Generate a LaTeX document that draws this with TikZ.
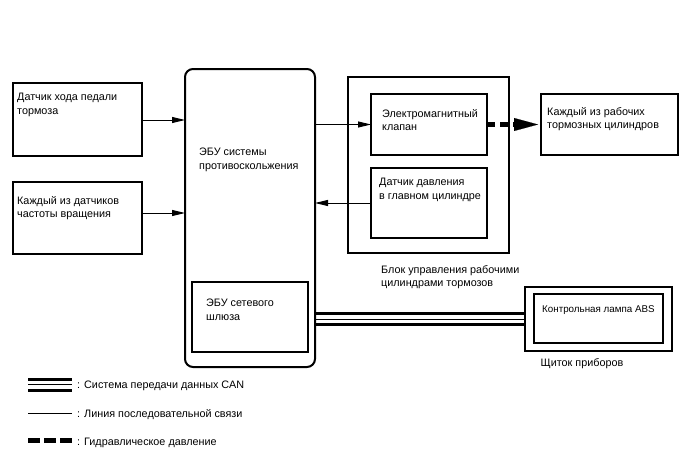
\documentclass[tikz,border=0pt]{standalone}
\usepackage{fontspec}
\setmainfont{Liberation Sans}
\usetikzlibrary{arrows.meta}
\begin{document}
\begin{tikzpicture}[x=1pt,y=-1pt,
  box/.style={draw, line width=1.5pt, outer sep=0pt, inner sep=0pt},
  txt/.style={anchor=north west, inner sep=0pt, align=left, font=\fontsize{10.8}{13.5}\selectfont},
  smalltxt/.style={txt, font=\fontsize{9.8}{12}\selectfont},
  sig/.style={line width=1pt, -{Triangle[length=13pt,width=6pt]}},
  hyd/.style={line width=5pt, dash pattern=on 8pt off 5pt, -{Triangle[length=24pt,width=13pt,line width=0.1pt]}, shorten >=3pt},
  thickcan/.style={line width=3pt},
  thincan/.style={line width=1.4pt}]
\useasboundingbox (0,0) rectangle (688,463);
% boxes
\node[box, minimum width=129pt, minimum height=73pt] (pedal) at (77.5,119.5) {};
\node[box, minimum width=129pt, minimum height=72pt] (speed) at (77.5,218) {};
\node[box, line width=2pt, rounded corners=8pt, minimum width=130pt, minimum height=298pt] (ecu) at (250,218) {};
\node[box, minimum width=116pt, minimum height=70pt] (gw) at (250,317) {};
\node[box, minimum width=161pt, minimum height=176pt] (block) at (428.5,165) {};
\node[box, minimum width=116pt, minimum height=61pt] (valve) at (429,124.5) {};
\node[box, minimum width=116pt, minimum height=70pt] (press) at (429,203) {};
\node[box, minimum width=137pt, minimum height=61pt] (wheel) at (609.5,124.5) {};
\node[box, minimum width=147pt, minimum height=64pt] (dout) at (598.5,319) {};
\node[box, minimum width=129pt, minimum height=49pt] (lamp) at (598.5,318.5) {};
% texts
\node[txt] (tpedal) at (17,93) {Датчик хода педали\\тормоза};
\node[txt] (tspeed) at (17,196) {Каждый из датчиков\\частоты вращения};
\node[txt] (tecu) at (199,148) {ЭБУ системы\\противоскольжения};
\node[txt] (tgw) at (206,299) {ЭБУ сетевого\\шлюза};
\node[txt] (tvalve) at (382,109) {Электромагнитный\\клапан};
\node[txt] (tpress) at (379,178) {Датчик давления\\в главном цилиндре};
\node[txt] (twheel) at (547,107) {Каждый из рабочих\\тормозных цилиндров};
\node[smalltxt] (tlamp) at (542,305) {Контрольная лампа ABS};
\node[txt] (tblock) at (381,265) {Блок управления рабочими\\цилиндрами тормозов};
\node[txt] (tdash) at (540.5,358) {Щиток приборов};
% connectors
\draw[sig] (pedal.east |- 0,120) -- (ecu.west |- 0,120);
\draw[sig] (speed.east |- 0,213) -- (ecu.west |- 0,213);
\draw[sig] (ecu.east |- valve.west) -- (valve.west);
\draw[sig] (press.west) -- (press.west -| ecu.east);
\draw[hyd] (valve.east) -- (wheel.west);
\draw[thickcan] (ecu.east |- 0,313.5) -- (dout.west |- 0,313.5);
\draw[thincan] (ecu.east |- 0,319.5) -- (dout.west |- 0,319.5);
\draw[thickcan] (ecu.east |- 0,324.5) -- (dout.west |- 0,324.5);
% legend
\draw[thickcan] (28,379.7) -- (72,379.7);
\draw[thincan] (28,384.5) -- (72,384.5);
\draw[thickcan] (28,390) -- (72,390);
\node[txt] (lcan) at (77,381) {: Система передачи данных CAN};
\draw[line width=1pt] (28,413) -- (72,413);
\node[txt] (lser) at (77,409.5) {: Линия последовательной связи};
\draw[line width=5pt, dash pattern=on 12pt off 4pt] (28,440.5) -- (72,440.5);
\node[txt] (lhyd) at (77,437.5) {: Гидравлическое давление};
\end{tikzpicture}
\end{document}
